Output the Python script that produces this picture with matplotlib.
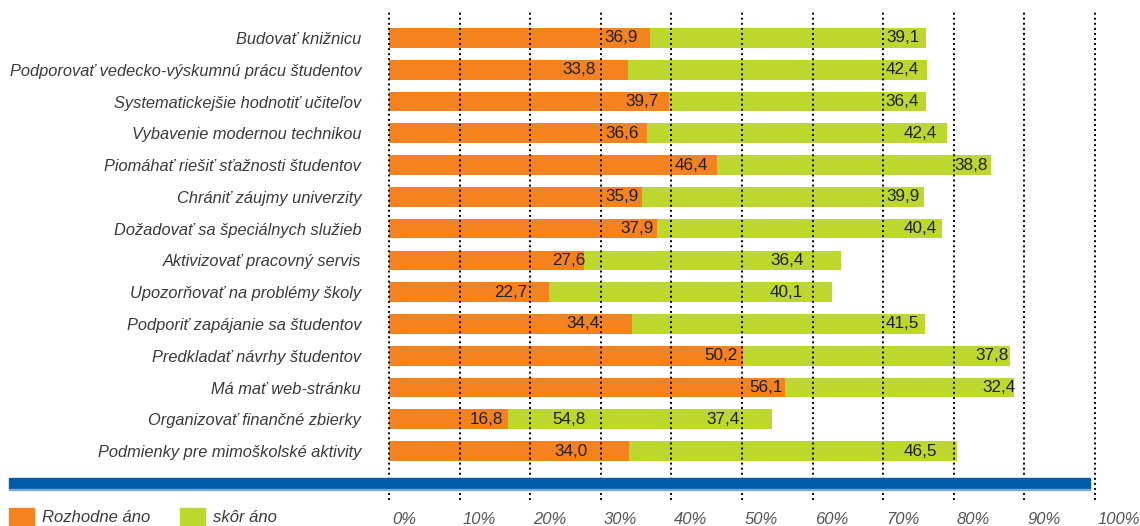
import numpy as np
import matplotlib.pyplot as plt
from matplotlib.patches import Rectangle

plt.rcParams['font.family'] = ['Liberation Sans', 'DejaVu Sans']

categories = ['Budovať knižnicu',
              'Podporovať vedecko-výskumnú prácu študentov',
              'Systematickejšie hodnotiť učiteľov',
              'Vybavenie modernou technikou',
              'Piomáhať riešiť sťažnosti študentov',
              'Chrániť záujmy univerzity',
              'Dožadovať sa špeciálnych služieb',
              'Aktivizovať pracovný servis',
              'Upozorňovať na problémy školy',
              'Podporiť zapájanie sa študentov',
              'Predkladať návrhy študentov',
              'Má mať web-stránku',
              'Organizovať finančné zbierky',
              'Podmienky pre mimoškolské aktivity']
rozhodne = [36.9, 33.8, 39.7, 36.6, 46.4, 35.9, 37.9, 27.6, 22.7, 34.4, 50.2, 56.1, 16.8, 34.0]
skor = [39.1, 42.4, 36.4, 42.4, 38.8, 39.9, 40.4, 36.4, 40.1, 41.5, 37.8, 32.4, 37.4, 46.5]
series_names = ['Rozhodne áno', 'skôr áno']
ticks = list(range(0, 101, 10))
tick_labels = [f'{t}%' for t in ticks]

# where the value labels end (right edge, in %), as placed in the original
lbl_x_orange = [35.3, 29.3, 38.2, 35.4, 45.2, 35.4, 37.5, 27.9, 19.6, 29.8, 49.3, 55.7, 16.2, 28.2]
lbl_x_green = [75.2, 75.1, 75.1, 77.6, 84.8, 75.1, 77.6, 58.8, 58.6, 75.1, 87.8, 88.7, 49.7, 77.6]
extra_label = ('54,8', 12, 27.9)  # stray label in the source chart

c_orange = '#F4821F'
c_green = '#BED72E'
c_text = '#3a3a3a'
num_size = 12.3

W, H = 1140, 526
fig = plt.figure(figsize=(W / 100, H / 100), dpi=100)
ax = fig.add_axes([389 / W, 26 / H, (1095 - 389) / W, 490 / H])

y = np.arange(len(categories))
ax.barh(y, rozhodne, height=0.62, color=c_orange, zorder=2)
ax.barh(y, skor, left=rozhodne, height=0.62, color=c_green, zorder=2)

for t in ticks:
    ax.axvline(t, color='black', lw=1.4, linestyle=(0, (1, 1.6)), zorder=3, clip_on=False)

def fmt(v):
    return f'{v:.1f}'.replace('.', ',')

for i in range(len(categories)):
    ax.text(lbl_x_orange[i], y[i], fmt(rozhodne[i]), ha='right', va='center',
            fontsize=num_size, color='#1e1e1e', zorder=4)
    ax.text(lbl_x_green[i], y[i], fmt(skor[i]), ha='right', va='center',
            fontsize=num_size, color='#1e1e1e', zorder=4)
ax.text(extra_label[2], extra_label[1], extra_label[0], ha='right', va='center',
        fontsize=num_size, color='#1e1e1e', zorder=4)

ax.set_xlim(0, 100)
ax.set_ylim(14.54, -0.881)
ax.set_yticks(y)
ax.set_yticklabels(categories, fontsize=11.8, style='italic', color=c_text)
ax.tick_params(axis='y', length=0, pad=20)
ax.set_xticks([])
for s in ax.spines.values():
    s.set_visible(False)

xt = ax.get_xaxis_transform()
for t, lab in zip(ticks, tick_labels):
    ax.text(t + 0.4, -0.039, lab, transform=xt, ha='left', va='center',
            fontsize=12, style='italic', color='#555555')

# blue base bar
fig.add_artist(Rectangle((9 / W, (H - 489) / H), 1081 / W, 11 / H,
                         transform=fig.transFigure, color='#005BAA', zorder=5))
fig.add_artist(Rectangle((9 / W, (H - 490) / H), 1081 / W, 1.2 / H,
                         transform=fig.transFigure, color='#7FA8D6', zorder=5))

# legend
for x0, name, col in zip([9, 180], series_names, [c_orange, c_green]):
    fig.add_artist(Rectangle((x0 / W, 0), 25 / W, 18 / H,
                             transform=fig.transFigure, color=col))
    fig.text((x0 + 33) / W, (H - 518) / H, name, ha='left', va='center',
             fontsize=12, style='italic', color=c_text)

plt.savefig('out.png', dpi=100)
